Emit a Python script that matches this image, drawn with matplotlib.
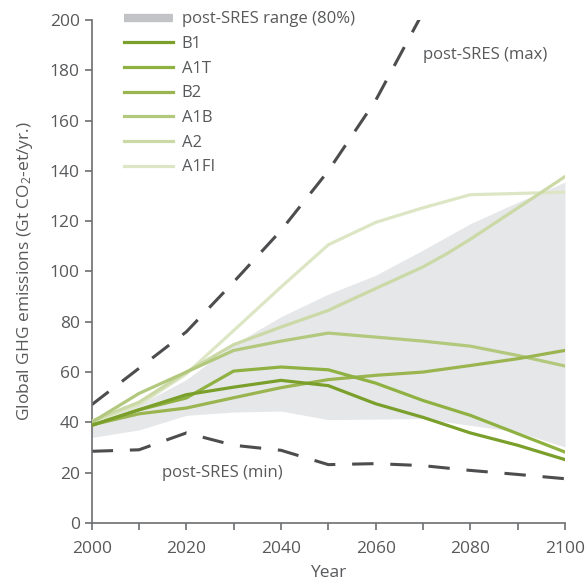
import numpy as np
import matplotlib
matplotlib.use("Agg")
import matplotlib.pyplot as plt
from matplotlib.lines import Line2D

plt.rcParams['font.family'] = ['Open Sans', 'DejaVu Sans']
plt.rcParams['mathtext.default'] = 'regular'

# data
years = [2000, 2010, 2020, 2030, 2040, 2050, 2060, 2070, 2080, 2090, 2100]

band_low = [34.0, 37.0, 42.8, 44.1, 44.5, 41.1, 41.3, 41.5, 38.8, 36.2, 30.2]
band_high = [40.5, 47.0, 57.0, 71.0, 82.0, 91.0, 98.5, 108.5, 119.0, 127.5, 135.5]

b1 = [38.8, 45.0, 51.0, 54.0, 56.7, 54.6, 47.4, 42.0, 35.8, 30.9, 25.2]
a1t = [38.8, 45.0, 49.7, 60.4, 62.0, 60.9, 55.6, 48.7, 42.8, 35.5, 28.2]
b2 = [39.0, 43.4, 45.7, 49.8, 53.8, 57.0, 58.7, 60.0, 62.6, 65.3, 68.6]
a1b = [40.0, 51.5, 60.0, 68.6, 72.3, 75.5, 73.9, 72.3, 70.3, 66.6, 62.4]
a2_years = [2000, 2010, 2020, 2030, 2040, 2050, 2052, 2060, 2070, 2075, 2080, 2090, 2100]
a2 = [40.5, 48.0, 60.0, 70.9, 77.9, 84.5, 86.3, 93.2, 101.8, 107.0, 112.8, 125.2, 137.7]
a1fi = [40.0, 47.0, 59.3, 76.5, 93.8, 110.6, 119.5, 125.3, 130.5, 131.0, 131.5]

max_years = [2000, 2010, 2020, 2030, 2040, 2050, 2060, 2070]
sres_max = [47.0, 61.5, 76.0, 95.8, 116.3, 140.0, 168.0, 203.0]
sres_min = [28.5, 29.1, 35.8, 30.9, 28.9, 23.2, 23.6, 22.8, 20.9, 19.3, 17.6]

scenarios = ['B1', 'A1T', 'B2', 'A1B', 'A2', 'A1FI']
colors = ['#7a9f2b', '#8fb142', '#9ab550', '#b2c87d', '#cad9a5', '#dde6c4']

fig = plt.figure(figsize=(5.85, 5.85), dpi=100)
ax = fig.add_axes([0.1567, 0.106, 0.8091, 0.86])

text_col = '#58595b'
ax.fill_between(years, band_low, band_high, color='#e6e7e9', lw=0, zorder=1)

ax.plot(max_years, sres_max, color='#4d4d4f', lw=2.2, dashes=(7, 5.5), zorder=2)
ax.plot(years, sres_min, color='#4d4d4f', lw=2.2, dashes=(7, 5.5), zorder=2)

series = [(years, b1), (years, a1t), (years, b2), (years, a1b), (a2_years, a2), (years, a1fi)]
# lightest first so the darker lines sit on top
for (xs, ys), c in reversed(list(zip(series, colors))):
    ax.plot(xs, ys, color=c, lw=2.3, zorder=3)

ax.text(2070, 186, 'post-SRES (max)', color=text_col, fontsize=12, va='center', ha='left')
ax.text(2014.8, 20, 'post-SRES (min)', color=text_col, fontsize=12, va='center', ha='left')

handles = [Line2D([], [], color='#c2c3c7', lw=6, solid_capstyle='butt')]
handles += [Line2D([], [], color=c, lw=2.3) for c in colors]
labels = ['post-SRES range (80%)'] + scenarios
leg = ax.legend(handles, labels, loc='upper left', bbox_to_anchor=(0.055, 1.03),
                frameon=False, fontsize=12, handlelength=2.9, handletextpad=0.55,
                labelspacing=0.52, borderaxespad=0)
for t in leg.get_texts():
    t.set_color(text_col)

ax.set_xlim(2000, 2100)
ax.set_ylim(0, 200)
ax.set_xticks(np.arange(2000, 2101, 10))
ax.set_xticklabels([str(y) if y % 20 == 0 else '' for y in range(2000, 2101, 10)])
ax.set_yticks(np.arange(0, 201, 20))

for s in ['top', 'right']:
    ax.spines[s].set_visible(False)
for s in ['left', 'bottom']:
    ax.spines[s].set_color('#6d6e71')
    ax.spines[s].set_linewidth(1.2)
ax.tick_params(colors='#6d6e71', labelcolor=text_col, labelsize=12.5, length=5, width=1.2)
ax.tick_params(axis='x', pad=8)

ax.set_xlabel('Year', color=text_col, fontsize=12.5, labelpad=6)
ax.set_ylabel('Global GHG emissions (Gt CO$_2$-et/yr.)', color=text_col, fontsize=12.5, labelpad=11)

fig.savefig('out.png', dpi=100)
